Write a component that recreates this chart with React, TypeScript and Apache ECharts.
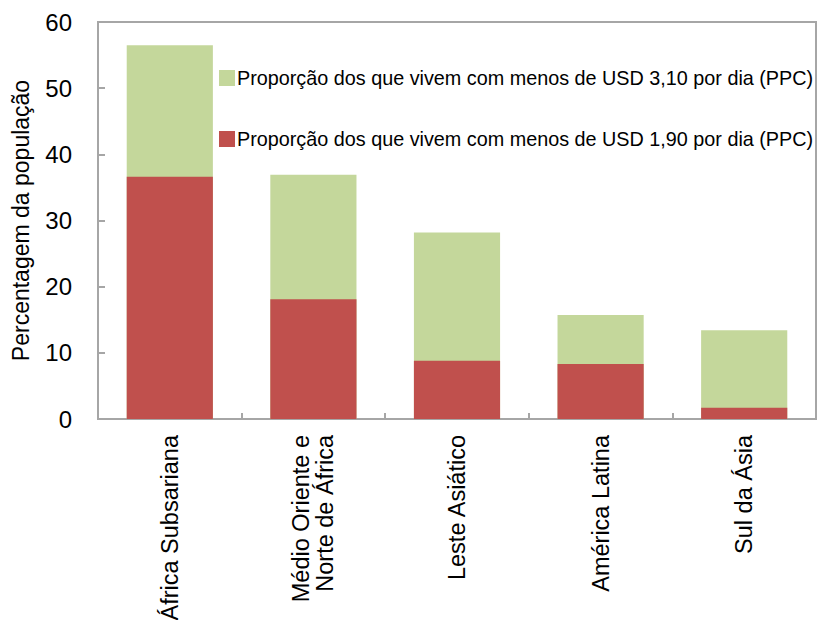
import React, { useEffect, useRef } from "react";
import * as echarts from "echarts";

const categories = [
  "África Subsariana",
  "Médio Oriente e\nNorte de África",
  "Leste Asiático",
  "América Latina",
  "Sul da Ásia",
];
const seriesNames = [
  "Proporção dos que vivem com menos de USD 3,10 por dia (PPC)",
  "Proporção dos que vivem com menos de USD 1,90 por dia (PPC)",
];
const below310 = [56.5, 36.9, 28.2, 15.7, 13.4];
const below190 = [36.6, 18.1, 8.8, 8.3, 1.7];
const yTicks = { min: 0, max: 60, interval: 10 };
const yAxisName = "Percentagem da população";

const NARROW = "'Liberation Sans Narrow', 'Arial Narrow', 'Liberation Sans', sans-serif";
const REGULAR = "'Liberation Sans', Arial, sans-serif";

export default function App() {
  const ref = useRef<HTMLDivElement>(null);
  useEffect(() => {
    if (!ref.current) return;
    const chart = echarts.init(ref.current, undefined, { renderer: "svg" });
    chart.setOption({
      animation: false,
      backgroundColor: "#ffffff",
      grid: {
        left: 98,
        right: 2,
        top: 22,
        bottom: 201,
        containLabel: false,
        outerBoundsMode: "none",
        show: true,
        borderColor: "#a6a6a6",
        borderWidth: 2,
      },
      legend: {
        orient: "vertical",
        left: 214,
        top: 63,
        itemWidth: 16,
        itemHeight: 16,
        itemGap: 41,
        icon: "rect",
        data: seriesNames,
        textStyle: { fontFamily: NARROW, fontSize: 19.8, color: "#000", padding: [0, 0, 0, -3] },
      },
      xAxis: {
        type: "category",
        data: categories,
        boundaryGap: true,
        axisLine: { lineStyle: { color: "#a6a6a6", width: 2 } },
        axisTick: { show: true, inside: true, length: 6, lineStyle: { color: "#a6a6a6", width: 2 } },
        axisLabel: {
          rotate: 90,
          interval: 0,
          fontFamily: REGULAR,
          fontSize: 23.5,
          color: "#000",
          margin: 16,
          lineHeight: 24,
        },
      },
      yAxis: {
        type: "value",
        min: yTicks.min,
        max: yTicks.max,
        interval: yTicks.interval,
        name: yAxisName,
        nameLocation: "middle",
        nameGap: 66,
        nameTextStyle: { fontFamily: NARROW, fontSize: 23, color: "#000" },
        axisLine: { show: true, lineStyle: { color: "#a6a6a6", width: 2 } },
        axisTick: { show: true, inside: true, length: 7, lineStyle: { color: "#a6a6a6", width: 2 } },
        splitLine: { show: false },
        axisLabel: { fontFamily: NARROW, fontSize: 24, color: "#000", margin: 26 },
      },
      series: [
        {
          name: seriesNames[0],
          type: "bar",
          data: below310,
          barWidth: "60%",
          barGap: "-100%",
          itemStyle: { color: "#c4d79b" },
        },
        {
          name: seriesNames[1],
          type: "bar",
          data: below190,
          barWidth: "60%",
          barGap: "-100%",
          itemStyle: { color: "#c0504d" },
        },
      ],
    });
    return () => chart.dispose();
  }, []);
  return (
    <div
      ref={ref}
      style={{ position: "fixed", left: 0, top: 0, width: 818, height: 620, background: "#fff" }}
    />
  );
}
